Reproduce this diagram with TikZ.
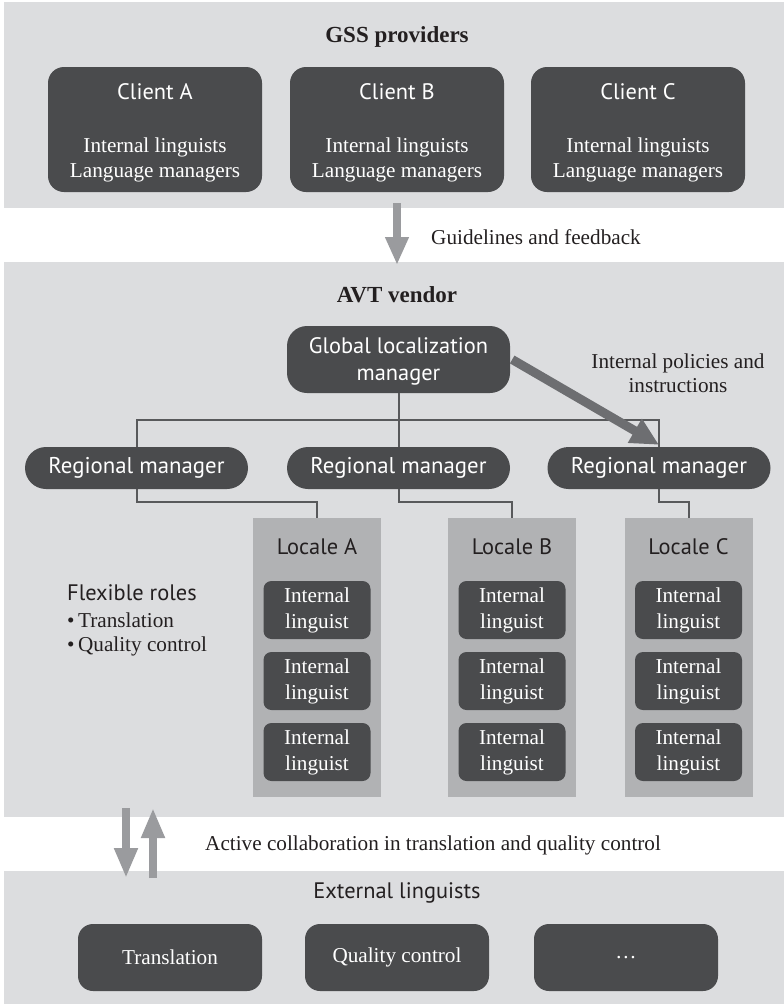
\documentclass[tikz,border=0pt]{standalone}
\usepackage{fontspec}
\setmainfont{Liberation Serif}
\newfontfamily\hd{PT Sans}
\usetikzlibrary{arrows.meta}
\definecolor{panel}{HTML}{DCDDDF}
\definecolor{boxdark}{HTML}{4A4B4D}
\definecolor{localebg}{HTML}{B1B2B4}
\definecolor{arrowgray}{HTML}{9A9B9E}
\definecolor{arrowdark}{HTML}{6D6E71}
\definecolor{linkgray}{HTML}{58595B}
\definecolor{ink}{HTML}{231F20}
\begin{document}
\begin{tikzpicture}[x=1pt,y=-1pt,
  panelbox/.style={fill=panel,draw=none,inner sep=0pt,minimum width=780pt},
  serif/.style={font=\fontsize{21.2}{25}\selectfont,text=ink,inner sep=0pt},
  sans/.style={font=\hd\fontsize{22.4}{25}\selectfont,text=ink,inner sep=0pt},
  bold/.style={font=\bfseries\fontsize{23}{25}\selectfont,text=ink,inner sep=0pt},
  clientbox/.style={fill=boxdark,rounded corners=16pt,minimum width=214pt,minimum height=125pt,inner sep=0pt},
  wsans/.style={font=\hd\fontsize{22.4}{27}\selectfont,text=white,align=center,inner sep=0pt},
  wserif/.style={font=\fontsize{21.2}{25}\selectfont,text=white,align=center,inner sep=0pt},
  mgrbox/.style={fill=boxdark,rounded corners=21pt,minimum width=223pt,minimum height=42pt,inner sep=0pt,
                 font=\hd\fontsize{22.8}{25}\selectfont,text=white},
  localebox/.style={fill=localebg,minimum width=128pt,minimum height=279pt,inner sep=0pt},
  lingbox/.style={fill=boxdark,rounded corners=8pt,minimum width=107pt,minimum height=58pt,inner sep=0pt,
                  font=\fontsize{21.2}{26}\selectfont,text=white,align=center},
  extbox/.style={fill=boxdark,rounded corners=15pt,minimum width=184pt,minimum height=67pt,inner sep=0pt,
                 font=\fontsize{21.2}{25}\selectfont,text=white},
  link/.style={draw=linkgray,line width=2pt},
  fatarrow/.style={draw=arrowgray,line width=8pt,-{Triangle[length=28pt,width=22pt]}},
  darkarrow/.style={draw=arrowdark,line width=9pt,-{Triangle[length=28pt,width=26pt]}},
]
\useasboundingbox (0,0) rectangle (784,1007);

% --- background panels ---
\node[panelbox,minimum height=206pt] (gss) at (394,105) {};
\node[panelbox,minimum height=555pt] (avt) at (394,539.5) {};
\node[panelbox,minimum height=133pt] (ext) at (394,937.5) {};

% --- GSS providers ---
\node[bold] (gsstitle) at (397,37) {GSS providers};
\foreach \n/\x/\l in {cA/155/A,cB/397/B,cC/638/C}{
  \node[clientbox] (\n) at (\x,129.5) {};
  \node[wsans] (\n-t) at (\x,92) {Client \l};
  \node[wserif] (\n-r) at (\x,159.5) {Internal linguists\\Language managers};
}

% --- guidelines arrow ---
\coordinate (g1) at (397,203);
\coordinate (g2) at (397,265);
\draw[fatarrow] (g1) -- (g2);
\node[serif,anchor=west] (guide) at (431,237) {Guidelines and feedback};

% --- AVT vendor ---
\node[bold] (avttitle) at (397,295) {AVT vendor};
\node[fill=boxdark,rounded corners=20pt,minimum width=223pt,minimum height=67pt,inner sep=0pt] (glm) at (398.5,359.5) {};
\node[wsans] (glm-t) at (398.5,361.5) {Global localization\\manager};
\node[serif,align=center,font=\fontsize{21.2}{24}\selectfont] (pol) at (678,373) {Internal policies and\\instructions};

\node[mgrbox] (rm1) at (136.5,468) {Regional manager};
\node[mgrbox] (rm2) at (398.5,468) {Regional manager};
\node[mgrbox] (rm3) at (659,468) {Regional manager};

\coordinate (bar) at (398.5,420);
\draw[link] (glm.south) -- (rm2.north);
\draw[link] (rm1.north) |- (bar) -| (rm3.north);

% --- locales ---
\node[localebox] (locA) at (317,657.5) {};
\node[localebox] (locB) at (512,657.5) {};
\node[localebox] (locC) at (688.5,657.5) {};
\node[sans] (locA-t) at (317,547) {Locale A};
\node[sans] (locB-t) at (512,547) {Locale B};
\node[sans] (locC-t) at (688.5,547) {Locale C};

\draw[link] (rm1.south) -- ++(0,13) -| (locA.north);
\draw[link] (rm2.south) -- ++(0,13) -| (locB.north);
\draw[link] (rm3.south) -- ++(0,13) -| (locC.north);

\foreach \c/\x in {A/317,B/512,C/688.5}{
  \foreach \r/\y in {1/610,2/681,3/752}{
    \node[lingbox] (il\c\r) at (\x,\y) {Internal\\linguist};
  }
}

\draw[darkarrow] ([xshift=2pt]glm.east) -- ([yshift=2pt]rm3.north);

% --- flexible roles ---
\node[sans,anchor=west] (flex) at (67,593) {Flexible roles};
\node[serif,anchor=west] (flex1) at (67,620) {\textbullet\,Translation};
\node[serif,anchor=west] (flex2) at (67,646) {\textbullet\,Quality control};

% --- collaboration arrows ---
\coordinate (d1) at (126,808);
\coordinate (d2) at (126,878);
\coordinate (u1) at (153,878);
\coordinate (u2) at (153,808);
\draw[fatarrow,-{Triangle[length=30pt,width=22pt]}] (d1) -- (d2);
\draw[fatarrow,-{Triangle[length=30pt,width=22pt]}] (u1) -- (u2);
\node[serif,anchor=west] (collab) at (205,845) {Active collaboration in translation and quality control};

% --- external linguists ---
\node[sans] (exttitle) at (397,893) {External linguists};
\node[extbox] (e1) at (170,957.5) {Translation};
\node[extbox] (e2) at (397,957.5) {Quality control};
\node[extbox] (e3) at (626,957.5) {\dots};
\end{tikzpicture}
\end{document}
